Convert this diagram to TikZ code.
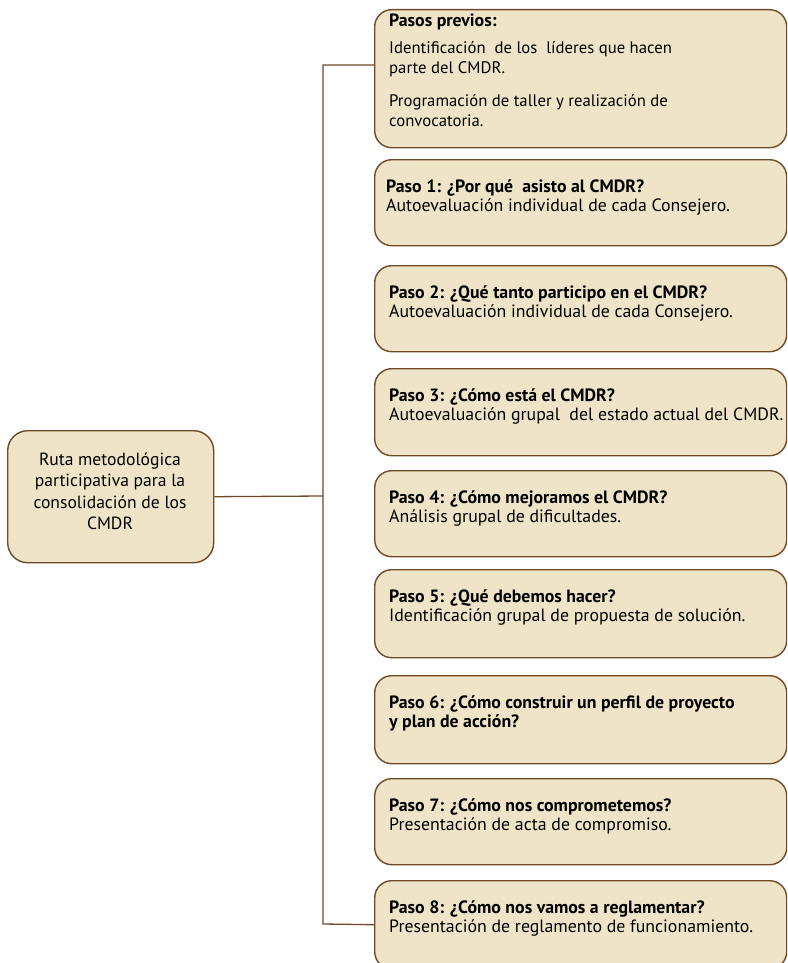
\documentclass[tikz,border=0pt]{standalone}
\usepackage{fontspec}
\setmainfont{PT Sans}
\definecolor{boxfill}{RGB}{239,228,199}
\definecolor{boxline}{RGB}{112,74,38}
\newcommand\stk[1]{\vtop{\baselineskip=19.5pt\halign{##\hfil\cr#1\crcr}}}
\newcommand\ctr[1]{\vtop{\baselineskip=21.5pt\halign{\hfil##\hfil\cr#1\crcr}}}
\newcommand\smtxt{\fontsize{16.7}{19.5}\selectfont}
\begin{document}
\begin{tikzpicture}[x=1pt,y=-1pt,
  stepbox/.style={draw=boxline, fill=boxfill, line width=1.4pt, rounded corners=17pt,
    minimum width=412pt, inner sep=0pt, anchor=north west},
  rootbox/.style={draw=boxline, fill=boxfill, line width=1.4pt, rounded corners=20pt,
    minimum width=206pt, minimum height=132pt, inner sep=0pt, anchor=north west},
  link/.style={draw=boxline, line width=1.3pt},
  txt/.style={anchor=base west, inner sep=0pt, font=\fontsize{17.8}{19.5}\selectfont},
  rtxt/.style={anchor=base, inner sep=0pt, font=\fontsize{17.6}{21.5}\selectfont}]
\useasboundingbox (0,0) rectangle (787,963);
\clip (0,0) rectangle (787,963);
% boxes
\node[rootbox] (root) at (7,430) {};
\node[stepbox, minimum height=138pt] (b0) at (374,9) {};
\node[stepbox, minimum height=86pt] (b1) at (374,159) {};
\node[stepbox, minimum height=86pt] (b2) at (374,265) {};
\node[stepbox, minimum height=87pt] (b3) at (374,368) {};
\node[stepbox, minimum height=86pt] (b4) at (374,470) {};
\node[stepbox, minimum height=88pt] (b5) at (374,569) {};
\node[stepbox, minimum height=88pt] (b6) at (374,675) {};
\node[stepbox, minimum height=86pt] (b7) at (374,778) {};
\node[stepbox, minimum height=88pt] (b8) at (374,880) {};
% connectors
\coordinate (jtop) at (323,65);
\coordinate (jmid) at (323,496);
\coordinate (jbot) at (323,924);
\draw[link] (root.east) -- (jmid);
\draw[link] (b0.west |- jtop) -- (jtop) -- (jbot) -- (b8.west);
% texts
\node[rtxt] (troot) at (110,465) {\ctr{Ruta metodológica\cr participativa para la\cr consolidación de los\cr CMDR}};
\node[txt] (t0) at (389,27) {\stk{\bfseries Pasos previos:\cr\noalign{\vskip 7.5pt}
  \smtxt Identificación\ \ de los\ \ líderes que hacen\cr
  \smtxt parte del CMDR.\cr\noalign{\vskip 14pt}
  \smtxt Programación de taller y realización de\cr
  \smtxt convocatoria.}};
\node[txt] (t1) at (386,192) {\stk{\bfseries Paso 1: ¿Por qué\ \ asisto al CMDR?\cr Autoevaluación individual de cada Consejero.}};
\node[txt] (t2) at (389,298) {\stk{\bfseries Paso 2: ¿Qué tanto participo en el CMDR?\cr Autoevaluación individual de cada Consejero.}};
\node[txt] (t3) at (389,401) {\stk{\bfseries Paso 3: ¿Cómo está el CMDR?\cr Autoevaluación grupal\ \ del estado actual del CMDR.}};
\node[txt] (t4) at (389,503) {\stk{\bfseries Paso 4: ¿Cómo mejoramos el CMDR?\cr Análisis grupal de dificultades.}};
\node[txt] (t5) at (389,602) {\stk{\bfseries Paso 5: ¿Qué debemos hacer?\cr Identificación grupal de propuesta de solución.}};
\node[txt] (t6) at (389,708) {\stk{\bfseries Paso 6: ¿Cómo construir un perfil de proyecto\cr \bfseries y plan de acción?}};
\node[txt] (t7) at (389,811) {\stk{\bfseries Paso 7: ¿Cómo nos comprometemos?\cr Presentación de acta de compromiso.}};
\node[txt] (t8) at (389,913) {\stk{\bfseries Paso 8: ¿Cómo nos vamos a reglamentar?\cr Presentación de reglamento de funcionamiento.}};
\end{tikzpicture}
\end{document}
